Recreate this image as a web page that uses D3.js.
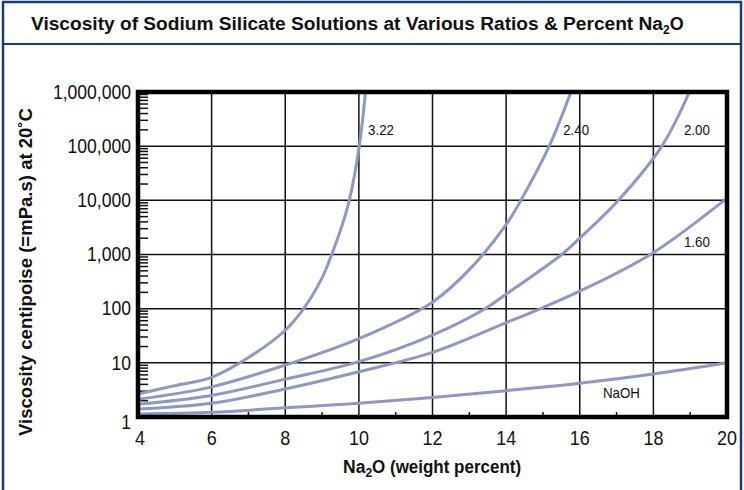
<!DOCTYPE html>
<html>
<head>
<meta charset="utf-8">
<script src="https://cdn.jsdelivr.net/npm/d3@7"></script>
<style>
  body { margin: 0; background: #fff; }
  svg { display: block; }
  .sans { font-family: "Liberation Sans", Arial, sans-serif; }
  .bold { font-family: "Liberation Sans", Arial, sans-serif; font-weight: bold; }
</style>
</head>
<body>
<div id="chart"></div>
<script>
// x ticks and y decades
const xTicks = [4, 6, 8, 10, 12, 14, 16, 18, 20];
const xMinor = [5, 7, 9, 11, 13, 15, 17, 19];
const yDecades = [1, 10, 100, 1000, 10000, 100000, 1000000];

// each series: Na2O weight percent vs viscosity (cP)
const r322x = [4, 5, 6, 7, 8, 8.5, 9, 9.26, 9.5, 9.74, 10.01, 10.18];
const r322y = [2.65, 3.8, 5.4, 12.5, 40, 100, 370, 1000, 2800, 10000, 100000, 1000000];

const r240x = [4, 6, 8, 10, 12, 13, 14, 14.4, 15.17, 15.76];
const r240y = [2.12, 3.6, 9.1, 28, 132, 525, 3550, 10000, 100000, 1000000];

const r200x = [4, 6, 8, 10, 12, 13.43, 14, 15.51, 16, 17.05, 18.23, 18.98];
const r200y = [1.72, 2.5, 5.0, 10.5, 32.6, 100, 185, 1000, 2000, 10000, 100000, 1000000];

const r160x = [4, 6, 8, 10, 12, 14, 15, 16, 17.92, 20];
const r160y = [1.40, 1.79, 3.3, 6.85, 15.6, 55, 105, 210, 1000, 11000];

const naohX = [4, 6, 8, 10, 12, 14, 16, 18, 20];
const naohY = [1.14, 1.22, 1.48, 1.8, 2.3, 3.06, 4.2, 6.2, 10];

const seriesNames = ['3.22', '2.40', '2.00', '1.60', 'NaOH'];
const seriesX = [r322x, r240x, r200x, r160x, naohX];
const seriesY = [r322y, r240y, r200y, r160y, naohY];
// label anchor (data coords) for each series
const labelX = [10.25, 15.55, 18.83, 18.83, 16.63];
const labelY = [200000, 200000, 200000, 1730, 2.77];

const W = 744, H = 490;
const frameColor = '#1b3a78';
const curveColor = '#8e98c5';

const svg = d3.select('#chart').append('svg')
    .attr('width', W)
    .attr('height', H);

// outer frame + title bar
svg.append('rect')
    .attr('x', 3).attr('y', 2)
    .attr('width', W - 6).attr('height', H + 10)
    .attr('fill', 'none')
    .attr('stroke', frameColor)
    .attr('stroke-width', 2.5);

svg.append('line')
    .attr('x1', 3).attr('x2', W - 3)
    .attr('y1', 44).attr('y2', 44)
    .attr('stroke', frameColor)
    .attr('stroke-width', 2);

const title = svg.append('text')
    .attr('class', 'bold')
    .attr('x', 31).attr('y', 30)
    .style('font-size', '18px')
    .attr('fill', '#111');
title.append('tspan').text('Viscosity of Sodium Silicate Solutions at Various Ratios & Percent Na')
    .attr('textLength', 632).attr('lengthAdjust', 'spacingAndGlyphs');
title.append('tspan').text('2').attr('dy', 4).style('font-size', '12px');
title.append('tspan').text('O').attr('dy', -4);

// scales
const x = d3.scaleLinear().domain([4, 20]).range([138, 727]);
const y = d3.scaleLog().domain([1, 1000000]).range([417, 92]);

const g = svg.append('g');

// grid lines
g.selectAll('line.vgrid')
    .data(xTicks.slice(1, -1))
    .join('line')
    .attr('class', 'vgrid')
    .attr('x1', d => x(d)).attr('x2', d => x(d))
    .attr('y1', y(1000000)).attr('y2', y(1))
    .attr('stroke', '#111')
    .attr('stroke-width', 1.5);

g.selectAll('line.hgrid')
    .data(yDecades.slice(1, -1))
    .join('line')
    .attr('class', 'hgrid')
    .attr('x1', x(4)).attr('x2', x(20))
    .attr('y1', d => y(d)).attr('y2', d => y(d))
    .attr('stroke', '#111')
    .attr('stroke-width', 1.5);

// minor log ticks on the left axis (2..9 in every decade)
const yMinor = [];
yDecades.slice(0, -1).forEach(d => {
    for (let k = 2; k <= 9; k++) yMinor.push(d * k);
});
g.selectAll('line.yminor')
    .data(yMinor)
    .join('line')
    .attr('class', 'yminor')
    .attr('x1', x(4)).attr('x2', x(4) + 10)
    .attr('y1', d => y(d)).attr('y2', d => y(d))
    .attr('stroke', '#111')
    .attr('stroke-width', 1.5);

// minor ticks on the bottom axis
g.selectAll('line.xminor')
    .data(xMinor)
    .join('line')
    .attr('class', 'xminor')
    .attr('x1', d => x(d)).attr('x2', d => x(d))
    .attr('y1', y(1)).attr('y2', y(1) - 5)
    .attr('stroke', '#111')
    .attr('stroke-width', 1.5);

// curves, clipped to the plot area
svg.append('clipPath').attr('id', 'plotClip')
    .append('rect')
    .attr('x', x(4)).attr('y', y(1000000))
    .attr('width', x(20) - x(4)).attr('height', y(1) - y(1000000));

const line = d3.line()
    .x(d => x(d[0]))
    .y(d => y(d[1]))
    .curve(d3.curveCatmullRom.alpha(0.5));

g.append('g')
    .attr('clip-path', 'url(#plotClip)')
    .selectAll('path')
    .data(seriesX.map((xs, i) => xs.map((v, j) => [v, seriesY[i][j]])))
    .join('path')
    .attr('d', line)
    .attr('fill', 'none')
    .attr('stroke', curveColor)
    .attr('stroke-width', 3);

// series labels
g.selectAll('text.slabel')
    .data(seriesNames)
    .join('text')
    .attr('class', 'slabel sans')
    .attr('transform', (d, i) => `translate(${x(labelX[i])},${y(labelY[i])}) scale(0.92,1)`)
    .attr('dy', '0.35em')
    .style('font-size', '14.5px')
    .attr('fill', '#111')
    .text(d => d);

// plot border (thick)
g.append('rect')
    .attr('x', x(4)).attr('y', y(1000000))
    .attr('width', x(20) - x(4)).attr('height', y(1) - y(1000000))
    .attr('fill', 'none')
    .attr('stroke', '#000')
    .attr('stroke-width', 4.5);

// axes labels
const fmt = d3.format(',');
g.selectAll('text.ytick')
    .data(yDecades)
    .join('text')
    .attr('class', 'ytick sans')
    .attr('transform', d => `translate(${x(4) - 7},${y(d) + (d === 1 ? 5 : 0)}) scale(0.9,1)`)
    .attr('dy', '0.35em')
    .attr('text-anchor', 'end')
    .style('font-size', '19.5px')
    .attr('fill', '#111')
    .text(d => fmt(d));

g.selectAll('text.xtick')
    .data(xTicks)
    .join('text')
    .attr('class', 'xtick sans')
    .attr('transform', d => `translate(${x(d) + (d === 4 ? 2 : 0)},${y(1) + 21}) scale(0.92,1)`)
    .attr('dy', '0.35em')
    .attr('text-anchor', 'middle')
    .style('font-size', '19.5px')
    .attr('fill', '#111')
    .text(d => d);

const xTitle = svg.append('text')
    .attr('class', 'bold')
    .attr('x', 343).attr('y', 473)
    .style('font-size', '17.5px')
    .attr('fill', '#111');
xTitle.append('tspan').text('Na');
xTitle.append('tspan').text('2').attr('dy', 4).style('font-size', '12px');
xTitle.append('tspan').text('O (weight percent)').attr('dy', -4)
    .attr('textLength', 149).attr('lengthAdjust', 'spacingAndGlyphs');

svg.append('text')
    .attr('class', 'bold')
    .attr('transform', 'translate(32,272) rotate(-90)')
    .attr('text-anchor', 'middle')
    .style('font-size', '18px')
    .attr('textLength', 328).attr('lengthAdjust', 'spacingAndGlyphs')
    .attr('fill', '#111')
    .text('Viscosity centipoise (=mPa.s) at 20˚C');
</script>
</body>
</html>
